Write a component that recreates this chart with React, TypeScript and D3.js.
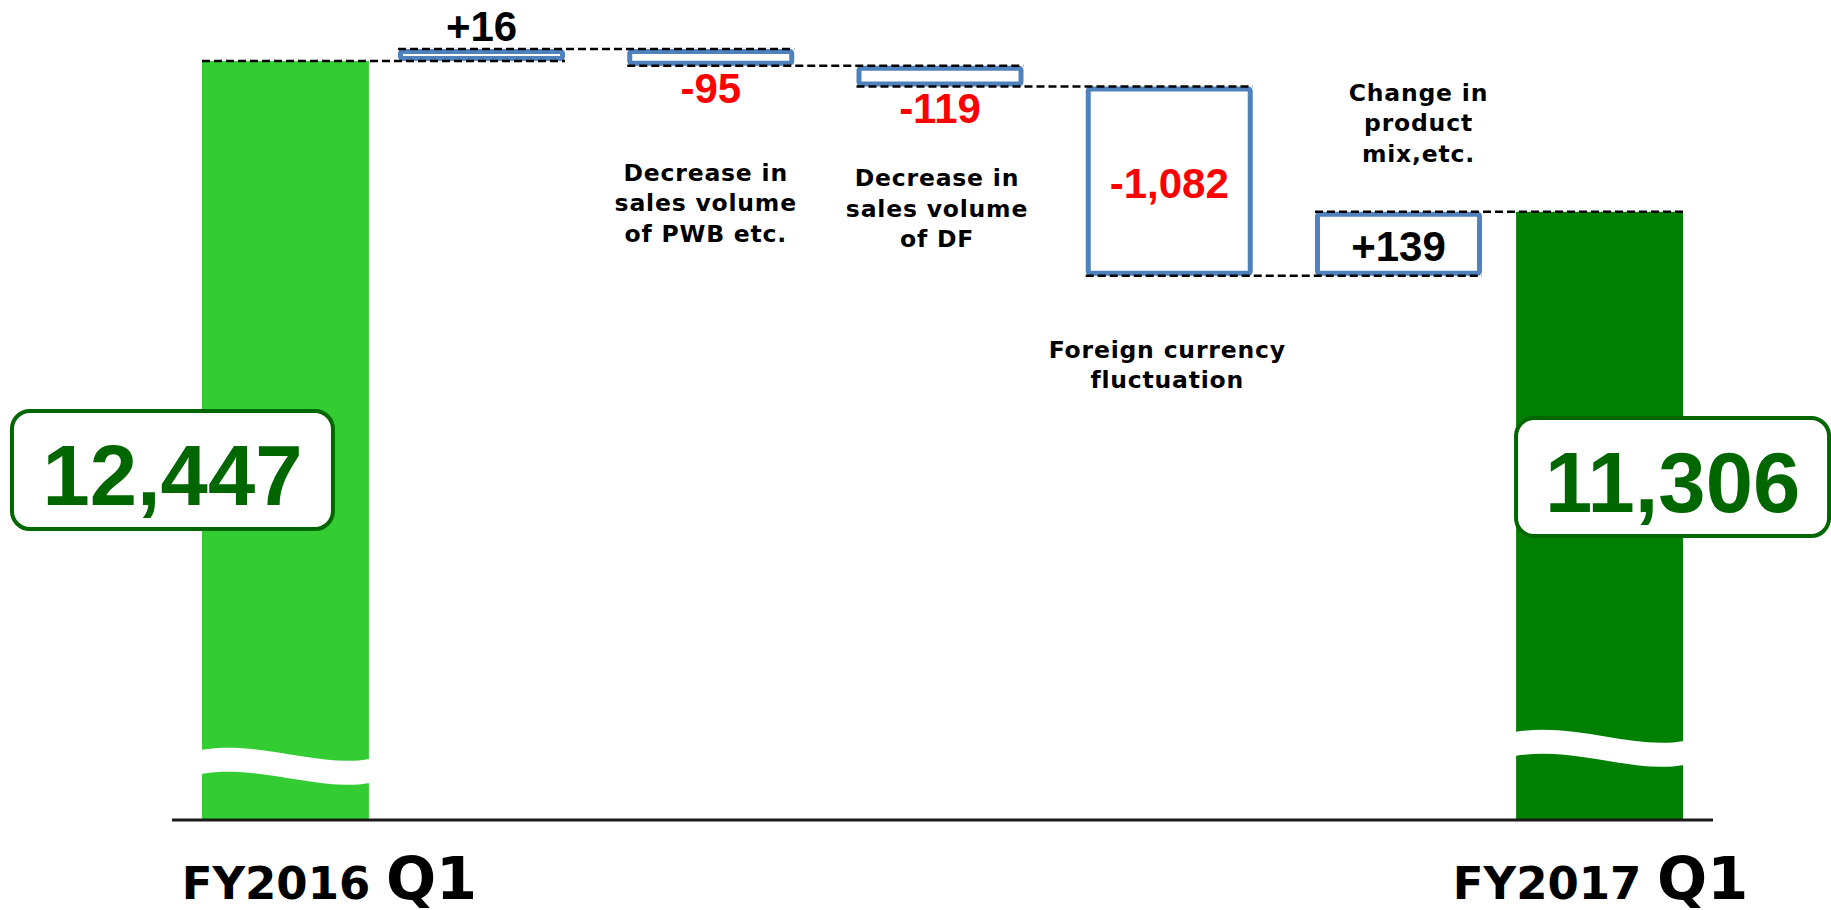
import React from 'react';
import * as d3 from 'd3';

// sales bridge FY2016 Q1 -> FY2017 Q1
const totalNames = ['FY2016 Q1', 'FY2017 Q1'];
const totalValues = [12447, 11306];
const totalLabels = ['12,447', '11,306'];
const periodYear = ['FY2016', 'FY2017'];
const periodQuarter = ['Q1', 'Q1'];

const stepNames = ['volume', 'pwb', 'df', 'fx', 'mix'];
const stepValues = [16, -95, -119, -1082, 139];
const stepLabels = ['+16', '-95', '-119', '-1,082', '+139'];
const stepNotes = [
  [],
  ['Decrease in', 'sales volume', 'of PWB etc.'],
  ['Decrease in', 'sales volume', 'of DF'],
  ['Foreign currency', 'fluctuation'],
  ['Change in', 'product', 'mix,etc.'],
];

const W = 1831;
const H = 910;
const baseY = 820;
const topY = 61;

const labelPos = ['above', 'below', 'below', 'inside', 'inside'];
const noteLayout = [
  null,
  { edge: 'bottom', dy: 115, dx: -5 },
  { edge: 'bottom', dy: 100, dx: -3 },
  { edge: 'bottom', dy: 82, dx: -2 },
  { edge: 'top', dy: -111, dx: 20 },
];
const totalColors = ['#33CC33', '#008000'];
const breakDrop = [70, 88];
const totalBox = [
  { dx: -113, cy: 470, w: 321 },
  { dx: 73, cy: 477, w: 313 },
];
const periodDx = [44, 1];

const wavePath = (x0: number, w: number, ty: number, t: number) => {
  const p = d3.path();
  p.moveTo(x0 - 1, ty);
  p.bezierCurveTo(x0 + 0.35 * w, ty - 10, x0 + 0.7 * w, ty + 18, x0 + w + 1, ty + 9);
  p.lineTo(x0 + w + 1, ty + 9 + t);
  p.bezierCurveTo(x0 + 0.7 * w, ty + 18 + t, x0 + 0.35 * w, ty - 10 + t, x0 - 1, ty + t);
  p.closePath();
  return p.toString();
};

export default function App() {
  const xTotals = d3.scaleBand().domain(totalNames).range([202, 1683]).paddingInner(0.873);
  const xSteps = d3.scaleBand().domain(stepNames).range([398, 1482]).paddingInner(0.2715);
  const hScale = d3.scaleLinear().domain([0, 1100]).range([0, 192.5]);
  const bw = xSteps.bandwidth();
  const tw = xTotals.bandwidth();
  const sw = 5;

  // walk the bridge in pixels, boxes get a min height so labels fit
  let level = topY;
  const levels = [level];
  const steps = stepValues.map((v, i) => {
    const minH = labelPos[i] === 'inside' ? 64 : 12;
    const h = Math.max(hScale(Math.abs(v)), minH);
    const y0 = level;
    const y1 = v >= 0 ? y0 - h : y0 + h;
    level = y1;
    levels.push(level);
    return { name: stepNames[i], x: xSteps(stepNames[i]) as number, top: Math.min(y0, y1), bottom: Math.max(y0, y1), v, i };
  });
  const totalTops = [topY, level];

  const elems = [
    { x: xTotals(totalNames[0]) as number, w: tw },
    ...steps.map(s => ({ x: s.x, w: bw })),
    { x: xTotals(totalNames[1]) as number, w: tw },
  ];
  const connectors = levels.map((y, k) => ({ y, x1: elems[k].x, x2: elems[k + 1].x + elems[k + 1].w }));

  const valueFont = '"Liberation Sans", Arial, sans-serif';
  const noteFont = '"DejaVu Sans", Verdana, sans-serif';

  return (
    <svg width={W} height={H} style={{ position: 'absolute', left: 0, top: 0, background: '#fff' }}>
      {totalNames.map((n, i) => {
        const x = xTotals(n) as number;
        return (
          <g key={n}>
            <rect x={x} y={totalTops[i]} width={tw} height={baseY - totalTops[i]} fill={totalColors[i]} />
            <path d={wavePath(x, tw, baseY - breakDrop[i], 24)} fill="#fff" />
          </g>
        );
      })}
      <line x1={xTotals(totalNames[0])! - 30} x2={xTotals(totalNames[1])! + tw + 30} y1={baseY} y2={baseY} stroke="#1a1a1a" strokeWidth={3} />

      {steps.map(s => (
        <rect key={s.name} x={s.x + sw / 2} y={s.top + sw / 2} width={bw - sw} height={s.bottom - s.top - sw}
          fill="#fff" stroke="#4F81BD" strokeWidth={sw} rx={2} />
      ))}

      {connectors.map((c, k) => (
        <line key={k} x1={c.x1} x2={c.x2} y1={c.y} y2={c.y} stroke="#000" strokeWidth={2.5} strokeDasharray="8 4" />
      ))}

      {steps.map(s => {
        const cx = s.x + bw / 2;
        const pos = labelPos[s.i];
        let y = 0;
        if (pos === 'above') y = s.top - 8;
        else if (pos === 'below') y = s.bottom + 37;
        else y = (s.top + s.bottom) / 2 + 17;
        return (
          <text key={s.name} x={cx} y={y} textAnchor="middle" fontFamily={valueFont} fontWeight="bold" fontSize={42}
            fill={s.v < 0 ? '#FF0000' : '#000'}>
            {stepLabels[s.i]}
          </text>
        );
      })}

      {steps.map(s => {
        const nl = noteLayout[s.i];
        if (!nl) return null;
        const y0 = (nl.edge === 'bottom' ? s.bottom : s.top) + nl.dy;
        return (
          <text key={s.name} x={s.x + bw / 2 + nl.dx} y={y0} textAnchor="middle" fontFamily={noteFont} fontWeight="bold"
            fontSize={23.5} letterSpacing={0.8} fill="#000">
            {stepNotes[s.i].map((t, j) => (
              <tspan key={j} x={s.x + bw / 2 + nl.dx} y={y0 + j * 30.5}>{t}</tspan>
            ))}
          </text>
        );
      })}

      {totalNames.map((n, i) => {
        const cx = (xTotals(n) as number) + tw / 2 + totalBox[i].dx;
        const b = totalBox[i];
        return (
          <g key={n}>
            <rect x={cx - b.w / 2} y={b.cy - 59} width={b.w} height={118} rx={18} fill="#fff" stroke="#006600" strokeWidth={4} />
            <text x={cx} y={b.cy + 35} textAnchor="middle" fontFamily={valueFont} fontWeight="bold" fontSize={85} fill="#006600">
              {totalLabels[i]}
            </text>
            <text x={(xTotals(n) as number) + tw / 2 + periodDx[i]} y={899} textAnchor="middle" fontFamily={noteFont} fontWeight="bold" fill="#000">
              <tspan fontSize={45}>{periodYear[i] + ' '}</tspan>
              <tspan fontSize={59}>{periodQuarter[i]}</tspan>
            </text>
          </g>
        );
      })}
    </svg>
  );
}
